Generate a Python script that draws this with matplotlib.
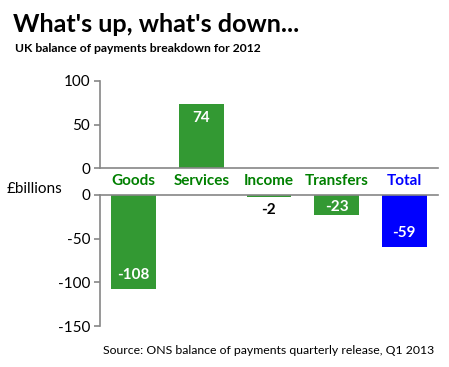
import matplotlib
matplotlib.use("Agg")
import matplotlib.pyplot as plt

categories = ["Goods", "Services", "Income", "Transfers", "Total"]
values = [-108, 74, -2, -23, -59]
bar_colors = ["#339933", "#339933", "#339933", "#339933", "#0000ff"]
label_colors = ["#008000", "#008000", "#008000", "#008000", "#0000ff"]
top_ticks = [0, 50, 100]
bottom_ticks = [-150, -100, -50, 0]

plt.rcParams['font.family'] = ['Lato', 'DejaVu Sans']
plt.rcParams['axes.unicode_minus'] = False

fig = plt.figure(figsize=(4.49, 3.67), dpi=100)
axis_grey = "#868686"

ax_top = fig.add_axes([0.2227, 0.5422, 0.7528, 0.2371])
ax_bot = fig.add_axes([0.2227, 0.1117, 0.7528, 0.3570])

x = list(range(len(categories)))
width = 0.665

# upper panel: positive part
ax_top.bar(x, [max(v, 0) for v in values], width=width, color=bar_colors)
ax_top.set_ylim(0, 100)
ax_top.set_yticks(top_ticks)
# lower panel: negative part
ax_bot.bar(x, [min(v, 0) for v in values], width=width, color=bar_colors)
ax_bot.set_ylim(-150, 0)
ax_bot.set_yticks(bottom_ticks)

for ax in (ax_top, ax_bot):
    ax.set_xlim(-0.5, len(categories) - 0.5)
    ax.set_xticks([])
    ax.spines['right'].set_visible(False)
    for s in ax.spines.values():
        s.set_color(axis_grey)
        s.set_linewidth(1.2)
    ax.tick_params(axis='y', direction='out', length=4, width=1.2, color=axis_grey,
                   labelsize=11, pad=3)
ax_top.spines['top'].set_visible(False)
ax_bot.spines['bottom'].set_visible(False)

# value labels
for i, v in enumerate(values):
    ax = ax_top if v > 0 else ax_bot
    length_px = abs(v) * 0.87
    if length_px < 10:
        off = -13 if v < 0 else 13
        ax.annotate(str(v), (i, v), xytext=(0, off * 0.72), textcoords='offset points',
                    ha='center', va='center', fontsize=11, fontweight='bold', color='black')
    else:
        inset = min(14, length_px / 2.5)
        off = inset if v < 0 else -inset
        ax.annotate(str(v), (i, v), xytext=(0, off * 0.72), textcoords='offset points',
                    ha='center', va='center', fontsize=11, fontweight='bold', color='white')

# category labels in the band between the panels
for i, c in enumerate(categories):
    ax_top.annotate(c, (i, 0), xytext=(0, -13 * 0.72), textcoords='offset points',
                    ha='center', va='center', fontsize=11, fontweight='bold',
                    color=label_colors[i], annotation_clip=False)

fig.text(7 / 449, 1 - 189 / 367, "£billions", fontsize=11, ha='left', va='center')
fig.text(13 / 449, 1 - 25 / 367, "What's up, what's down...", fontsize=18.2,
         fontweight='bold', ha='left', va='center')
fig.text(15 / 449, 1 - 49 / 367, "UK balance of payments breakdown for 2012", fontsize=8.7,
         fontweight='bold', ha='left', va='center')
fig.text(103 / 449, 1 - 350 / 367, "Source: ONS balance of payments quarterly release, Q1 2013",
         fontsize=8.8, ha='left', va='center')

fig.savefig("out.png", dpi=100)
